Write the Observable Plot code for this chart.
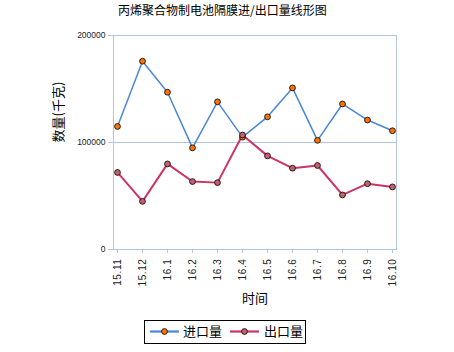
<!DOCTYPE html>
<html>
<head>
<meta charset="utf-8">
<script src="https://cdn.jsdelivr.net/npm/d3@7"></script>
<script src="https://cdn.jsdelivr.net/npm/@observablehq/plot@0.6"></script>
<style>
  html, body { margin: 0; padding: 0; background: #fff; }
  #wrap { position: relative; width: 454px; height: 352px; overflow: hidden; font-family: "Noto Sans CJK SC", sans-serif; }
  #title { position: absolute; left: 0; top: 1px; width: 454px; text-align: left; font-size: 12px; color: #000; }
  #title span { position: absolute; left: 118px; top: 0; white-space: nowrap; }
  #chart { position: absolute; left: 0; top: 22px; }
  #legend { position: absolute; left: 144px; top: 320px; }
  .xax text { letter-spacing: 0.6px; }
</style>
</head>
<body>
<div id="wrap">
  <div id="title"><span>丙烯聚合物制电池隔膜进/出口量线形图</span></div>
  <div id="chart"></div>
  <div id="legend"></div>
</div>
<script>
const months = ["15.11","15.12","16.1","16.2","16.3","16.4","16.5","16.6","16.7","16.8","16.9","16.10"];
const importQty = [115000,176000,147000,95000,138000,105000,124000,151000,102000,136000,121000,111000];
const exportQty = [72000,45000,80000,63500,62500,107000,87500,76000,78500,51000,61500,58500];
const yTicks = [0,100000,200000];
const seriesNames = ["进口量","出口量"];
const lineColors = ["#4a86dc","#cc3366"];
const dotColors = ["#ff7200","#c8606c"];

const rows = [];
months.forEach((m,i)=>{
  rows.push({month:m, value:importQty[i], series:seriesNames[0]});
  rows.push({month:m, value:exportQty[i], series:seriesNames[1]});
});
const imp = rows.filter(d=>d.series===seriesNames[0]);
const exp = rows.filter(d=>d.series===seriesNames[1]);
const axisColor = "#b4c6df";

const chart = Plot.plot({
  width: 454,
  height: 290,
  marginLeft: 113,
  marginRight: 58,
  marginTop: 13,
  marginBottom: 63,
  style: {fontFamily: "'Liberation Sans', Arial, sans-serif", background: "transparent", overflow: "visible"},
  x: {type: "point", domain: months, padding: 0, label: null},
  y: {domain: [0,200000], label: null},
  marks: [
    Plot.ruleY([100000], {stroke: axisColor, strokeWidth: 1}),
    Plot.frame({stroke: axisColor, strokeWidth: 1}),
    Plot.axisY({ticks: yTicks, tickFormat: d3.format("d"), tickSize: 5, tickPadding: 3, stroke: axisColor, fill: "#222", fontSize: 8.5, label: null}),
    Plot.axisX({tickSize: 4, tickPadding: 5, tickRotate: -90, stroke: axisColor, fill: "#222", fontSize: 10, label: null, className: "xax"}),
    Plot.line(imp, {x: "month", y: "value", stroke: lineColors[0], strokeWidth: 1.5}),
    Plot.line(exp, {x: "month", y: "value", stroke: lineColors[1], strokeWidth: 2}),
    Plot.dot(imp, {x: "month", y: "value", r: 2.9, fill: dotColors[0], stroke: "#111", strokeWidth: 0.9}),
    Plot.dot(exp, {x: "month", y: "value", r: 2.9, fill: dotColors[1], stroke: "#111", strokeWidth: 0.9}),
    Plot.text(["数量(千克)"], {frameAnchor: "left", dx: -55, rotate: -90, fontSize: 13, fill: "#000", fontFamily: "'Noto Sans CJK SC', sans-serif"}),
    Plot.text(["时间"], {frameAnchor: "bottom", dy: 53, fontSize: 13, fill: "#000", fontFamily: "'Noto Sans CJK SC', sans-serif"})
  ]
});
document.getElementById("chart").appendChild(chart);

// Legend
const lg = d3.select("#legend").append("svg").attr("width", 163).attr("height", 25);
lg.append("rect").attr("x",0.5).attr("y",0.5).attr("width",161).attr("height",23).attr("fill","#fff").attr("stroke","#000");
const items = [{x0: 6, tx: 39}, {x0: 86, tx: 120}];
items.forEach((it,i)=>{
  const g = lg.append("g");
  g.append("line").attr("x1", it.x0).attr("x2", it.x0+29).attr("y1", 11.5).attr("y2", 11.5).attr("stroke", lineColors[i]).attr("stroke-width", 2.2);
  g.append("circle").attr("cx", it.x0+14.5).attr("cy", 11.5).attr("r", 2.9).attr("fill", dotColors[i]).attr("stroke","#111").attr("stroke-width",0.9);
  g.append("text").attr("x", it.tx).attr("y", 16).attr("font-size", 13).attr("font-family","'Noto Sans CJK SC', sans-serif").attr("fill","#000").text(seriesNames[i]);
});
</script>
</body>
</html>
